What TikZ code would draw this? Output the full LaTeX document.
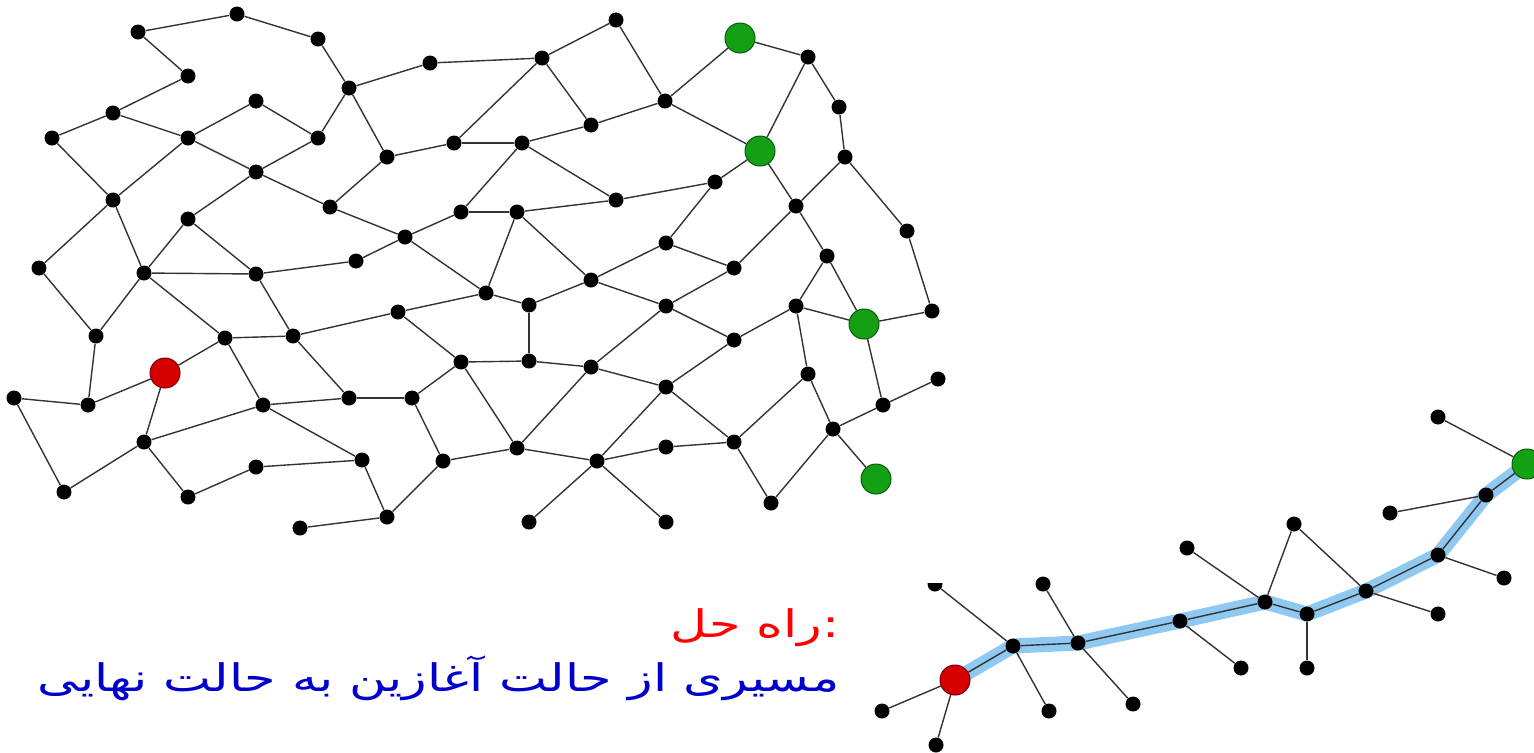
\documentclass[tikz,border=0pt]{standalone}
\usepackage{fontspec}
\newfontfamily\arabicfont[Script=Arabic, FakeStretch=1.34]{DejaVu Sans}
\TeXXeTstate=1
\definecolor{goalgreen}{RGB}{20,160,20}
\definecolor{goaledge}{RGB}{10,90,10}
\definecolor{startred}{RGB}{215,0,0}
\definecolor{startedge}{RGB}{120,0,0}
\definecolor{pathblue}{RGB}{143,200,240}
\definecolor{textblue}{RGB}{0,0,205}
\definecolor{textred}{RGB}{255,0,0}
\pgfdeclarelayer{background}
\pgfsetlayers{background,main}
\tikzset{
  dot/.style={circle, fill=black, inner sep=0pt, minimum size=7.5pt},
  goal/.style={circle, fill=goalgreen, draw=goaledge, line width=0.5pt, inner sep=0pt, minimum size=15pt},
  start/.style={circle, fill=startred, draw=startedge, line width=0.5pt, inner sep=0pt, minimum size=15pt},
  link/.style={draw=black!80, line width=0.7pt},
  highlight/.style={draw=pathblue, line width=7.5pt, line join=round, line cap=round},
  label/.style={font=\arabicfont\fontsize{19}{22}\selectfont, inner sep=0pt}
}
\begin{document}
\begin{tikzpicture}[x=0.5pt, y=-0.5pt]
\useasboundingbox (0,0) rectangle (1534,752);
% main graph nodes
\foreach \n/\x/\y in {1/138/32, 2/237/14, 3/318/39, 4/188/76, 5/256/101, 6/113/113, 7/52/138, 8/188/138, 9/318/138, 10/256/172,
  11/330/207, 12/113/200, 13/188/219, 14/39/268, 15/144/273, 16/256/274, 17/349/88, 18/430/63, 19/542/58, 20/616/20,
  21/387/157, 22/454/143, 23/522/143, 24/591/125, 25/461/212, 26/517/212, 27/616/200, 28/405/237, 29/356/261, 30/591/280,
  32/808/57, 33/665/101, 34/839/107, 36/845/157, 37/715/182, 38/796/206, 39/666/243, 40/907/231,
  41/827/256, 42/734/268, 43/96/336, 44/225/338, 45/293/336, 47/14/398, 48/88/405, 49/263/405, 50/144/442,
  51/256/467, 52/64/492, 53/188/497, 54/300/528, 55/486/293, 56/529/305, 57/398/312, 58/461/362, 59/529/361, 60/591/367,
  61/349/398, 62/412/398, 63/362/460, 64/443/461, 65/517/448, 66/597/461, 67/387/517, 68/529/522, 69/666/306, 70/796/306,
  72/932/311, 73/734/340, 74/808/374, 75/938/379, 76/666/387, 77/883/405, 78/833/429, 79/666/447, 80/734/442,
  82/771/503, 83/666/522}
  \node[dot] (n\n) at (\x,\y) {};
\node[goal] (n31) at (740,38) {};
\node[goal] (n35) at (760,151) {};
\node[goal] (n71) at (864,324) {};
\node[goal] (n81) at (876,479) {};
\node[start] (n46) at (165,373) {};
% main graph edges
\begin{pgfonlayer}{background}
\foreach \a/\b in {1/2, 2/3, 3/17, 1/4, 4/6, 6/7, 6/8, 8/5, 5/9, 9/17, 8/10, 10/9, 10/11, 7/12, 8/12, 12/14, 12/15,
  10/13, 13/15, 13/16, 15/16, 16/29,
  17/18, 18/19, 19/20, 20/33, 19/24, 24/33, 17/21, 21/22, 22/19, 22/23, 23/24, 23/25, 23/27, 27/37, 21/11, 11/28,
  28/25, 25/26, 26/27, 26/55, 26/30, 30/39, 28/29, 28/55,
  33/31, 31/32, 32/35, 32/34, 34/36, 33/35, 35/37, 35/38, 38/36, 36/40, 40/72, 38/41, 37/39, 39/42, 42/38, 41/70, 41/71,
  14/43, 15/43, 15/44, 16/45, 44/45, 45/57, 44/46, 44/49, 45/61, 43/48, 47/48, 48/46, 46/50, 47/52, 52/50, 50/49,
  50/53, 53/51, 51/63, 49/61, 49/63, 54/67,
  55/56, 56/30, 30/69, 56/59, 57/55, 57/58, 58/59, 59/60, 60/69, 60/76, 58/62, 61/62, 62/64, 58/65, 64/65, 65/60,
  65/66, 66/76, 66/79, 66/83, 63/67, 67/64, 66/68,
  69/42, 69/73, 73/70, 70/71, 71/72, 70/74, 71/77, 77/75, 74/78, 77/78, 78/81, 74/80, 80/76, 76/73, 79/80, 80/82, 82/78}
  \draw[link] (n\a) -- (n\b);
\end{pgfonlayer}
% solution path graph
\node[start] (m1) at (955,680) {};
\foreach \n/\x/\y in {2/1013/646, 3/1078/643, 4/1180/621, 5/1265/602, 6/1307/614, 7/1366/591, 8/1438/555, 9/1486/495,
  11/882/711, 12/936/745, 14/1049/711, 15/1043/584, 16/1133/704, 17/1241/668, 18/1187/548, 19/1294/524,
  20/1307/668, 21/1438/614, 22/1504/578, 23/1390/513, 24/1438/417}
  \node[dot] (m\n) at (\x,\y) {};
\begin{scope}
  \clip (915,583) rectangle (960,600);
  \node[dot] (m13) at (935,584) {};
\end{scope}
\node[goal] (m10) at (1527,464) {};
\begin{pgfonlayer}{background}
\draw[highlight] (m1.center) -- (m2.center) -- (m3.center) -- (m4.center) -- (m5.center) -- (m6.center)
  -- (m7.center) -- (m8.center) -- (m9.center) -- (m10.center);
\foreach \a/\b in {1/2, 2/3, 3/4, 4/5, 5/6, 6/7, 7/8, 8/9, 9/10,
  1/11, 1/12, 2/13, 2/14, 3/15, 3/16, 4/17, 5/18, 5/19, 19/7, 6/20, 7/21, 8/22, 9/23, 10/24}
  \draw[link] (m\a) -- (m\b);
\end{pgfonlayer}
% texts
\node[label, text=textred, anchor=base east] (t1) at (840,637) {\beginR راه حل\endR:};
\node[label, text=textblue, anchor=base east] (t2) at (840,691) {\beginR مسیری از حالت آغازین به حالت نهایی\endR};
\end{tikzpicture}
\end{document}
